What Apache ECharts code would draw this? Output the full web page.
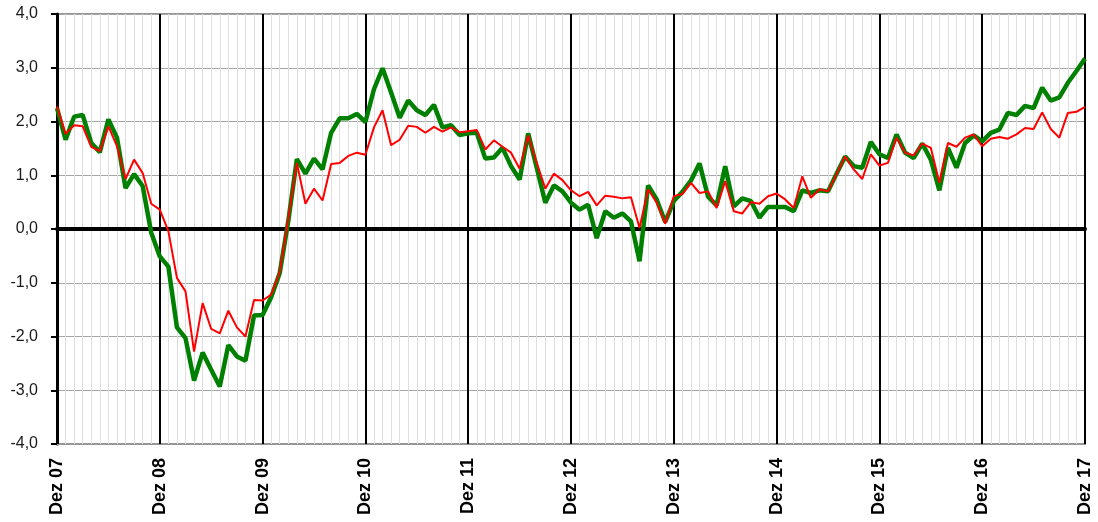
<!DOCTYPE html>
<html>
<head>
    <meta charset="UTF-8">
    <title>Dez 07 - Dez 17</title>
    <script src="https://cdn.jsdelivr.net/npm/echarts@6/dist/echarts.min.js"></script>
    <style>
        body { margin: 0; background: #fff; }
    </style>
</head>
<body>
<div id="main" style="width: 1098px;height:522px;"></div>
<script type="text/javascript">
    // Jahresbeschriftung (jeweils Dezember)
    var yearLabels = ['Dez 07', 'Dez 08', 'Dez 09', 'Dez 10', 'Dez 11', 'Dez 12',
        'Dez 13', 'Dez 14', 'Dez 15', 'Dez 16', 'Dez 17'];
    var monthNames = ['Jan', 'Feb', 'Mrz', 'Apr', 'Mai', 'Jun', 'Jul', 'Aug', 'Sep', 'Okt', 'Nov', 'Dez'];
    var yTicks = [-4, -3, -2, -1, 0, 1, 2, 3, 4];

    // gruene Linie (dick)
    var greenValues = [
        2.25, 1.66, 2.09, 2.12, 1.60, 1.43, 2.04, 1.70, 0.76, 1.02, 0.80, -0.07,
        -0.51, -0.70, -1.83, -2.03, -2.82, -2.30, -2.62, -2.93, -2.16, -2.37, -2.45, -1.61,
        -1.60, -1.27, -0.82, 0.15, 1.30, 1.03, 1.31, 1.11, 1.79, 2.06, 2.06, 2.14,
        1.99, 2.60, 2.99, 2.54, 2.07, 2.39, 2.21, 2.12, 2.31, 1.89, 1.93, 1.75,
        1.78, 1.79, 1.31, 1.33, 1.51, 1.17, 0.92, 1.78, 1.14, 0.49, 0.81, 0.70,
        0.49, 0.36, 0.45, -0.17, 0.33, 0.21, 0.29, 0.14, -0.60, 0.81, 0.55, 0.13,
        0.52, 0.69, 0.90, 1.22, 0.60, 0.44, 1.17, 0.42, 0.57, 0.52, 0.21, 0.41,
        0.41, 0.41, 0.33, 0.72, 0.67, 0.72, 0.70, 1.03, 1.35, 1.17, 1.14, 1.62,
        1.39, 1.32, 1.76, 1.42, 1.32, 1.59, 1.29, 0.72, 1.51, 1.14, 1.60, 1.74,
        1.63, 1.79, 1.85, 2.16, 2.12, 2.29, 2.25, 2.63, 2.39, 2.45, 2.72, 2.94,
        3.17
    ];
    // rote Linie (duenn)
    var redValues = [
        2.28, 1.77, 1.93, 1.91, 1.53, 1.45, 1.91, 1.54, 0.93, 1.29, 1.04, 0.47,
        0.36, -0.04, -0.91, -1.16, -2.28, -1.38, -1.86, -1.94, -1.52, -1.83, -2.00, -1.32,
        -1.33, -1.22, -0.80, 0.20, 1.23, 0.47, 0.75, 0.53, 1.21, 1.23, 1.36, 1.42,
        1.38, 1.89, 2.21, 1.56, 1.66, 1.92, 1.90, 1.79, 1.90, 1.81, 1.89, 1.80,
        1.82, 1.84, 1.48, 1.65, 1.53, 1.42, 1.12, 1.74, 1.23, 0.75, 1.03, 0.91,
        0.72, 0.61, 0.69, 0.44, 0.62, 0.60, 0.57, 0.59, 0.02, 0.74, 0.49, 0.10,
        0.61, 0.65, 0.86, 0.67, 0.70, 0.39, 0.89, 0.33, 0.29, 0.50, 0.47, 0.61,
        0.66, 0.55, 0.39, 0.98, 0.58, 0.74, 0.70, 1.02, 1.35, 1.11, 0.93, 1.39,
        1.18, 1.23, 1.70, 1.42, 1.37, 1.59, 1.51, 0.86, 1.60, 1.53, 1.70, 1.76,
        1.54, 1.68, 1.71, 1.68, 1.76, 1.88, 1.86, 2.17, 1.86, 1.70, 2.16, 2.18,
        2.27
    ];

    // Monatskategorien von Dez 07 bis Dez 17
    var categories = [];
    for (var i = 0; i < greenValues.length; i++) {
        if (i % 12 == 0) {
            categories.push(yearLabels[i / 12]);
        } else {
            var m = (11 + i) % 12;
            var y = 7 + Math.floor((11 + i) / 12);
            categories.push(monthNames[m] + ' ' + (y < 10 ? '0' + y : y));
        }
    }

    var myChart = echarts.init(document.getElementById('main'));
    myChart.setOption({
        animation: false,
        grid: {
            left: 57,
            right: 13,
            top: 14,
            bottom: 78,
            show: true,
            borderColor: '#969696',
            borderWidth: 2
        },
        xAxis: [{
            type: 'category',
            data: categories,
            boundaryGap: false,
            axisLine: { onZero: false, lineStyle: { color: '#969696', width: 1 } },
            axisTick: { show: false },
            axisLabel: {
                interval: 11,
                rotate: 90,
                margin: 14,
                color: '#000',
                fontWeight: 'bold',
                fontSize: 18,
                fontFamily: 'Liberation Sans'
            },
            splitLine: { show: true, interval: 0, lineStyle: { color: '#dedede', width: 1 } }
        }, {
            type: 'category',
            data: categories,
            boundaryGap: false,
            position: 'bottom',
            axisLine: { onZero: true, lineStyle: { color: '#000', width: 4 } },
            axisTick: { show: false },
            axisLabel: { show: false },
            splitLine: { show: true, interval: 11, lineStyle: { color: '#000', width: 2 } }
        }],
        yAxis: {
            type: 'value',
            min: yTicks[0],
            max: yTicks[yTicks.length - 1],
            interval: 1,
            axisLine: { show: true, lineStyle: { color: '#000', width: 3 } },
            axisTick: { show: true, length: 6, lineStyle: { color: '#000', width: 2 } },
            axisLabel: {
                margin: 19,
                color: '#1a1a1a',
                fontSize: 16,
                fontFamily: 'Liberation Sans',
                formatter: function (v) { return v.toFixed(1).replace('.', ','); }
            },
            splitLine: { show: true, lineStyle: { color: '#a6a6a6', width: 1 } }
        },
        series: [{
            name: 'gruen',
            type: 'line',
            xAxisIndex: 0,
            data: greenValues,
            showSymbol: false,
            lineStyle: { color: '#008000', width: 4.5 },
            z: 3
        }, {
            name: 'rot',
            type: 'line',
            xAxisIndex: 0,
            data: redValues,
            showSymbol: false,
            lineStyle: { color: '#ff0000', width: 2 },
            z: 4
        }]
    });
</script>
</body>
</html>
